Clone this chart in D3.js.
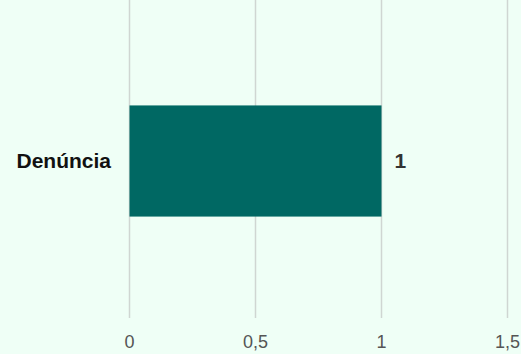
<!DOCTYPE html>
<meta charset="utf-8">
<script src="https://d3js.org/d3.v7.min.js"></script>
<style>
  body { margin: 0; background: #effff6; }
  svg { display: block; font-family: "Liberation Sans", Arial, sans-serif; }
</style>
<body>
<svg id="chart" width="521" height="354"></svg>
<script>
// data
var categories = ["Denúncia"];
var values = [1];
var tickValues = [0, 0.5, 1, 1.5];
var tickLabels = ["0", "0,5", "1", "1,5"];

var svg = d3.select("#chart");

var x = d3.scaleLinear().domain([0, 1.5]).range([129.5, 507.5]);
var y = d3.scaleBand().domain(categories).range([2, 320]).padding(0.482);

// vertical grid
svg.append("g")
  .selectAll("line")
  .data(tickValues)
  .enter().append("line")
    .attr("x1", d => x(d)).attr("x2", d => x(d))
    .attr("y1", 0).attr("y2", 318)
    .attr("stroke", "#cfd6d2")
    .attr("stroke-width", 1.5);

// x tick labels
svg.append("g")
  .selectAll("text")
  .data(tickValues)
  .enter().append("text")
    .attr("x", d => x(d))
    .attr("y", 348)
    .attr("text-anchor", "middle")
    .attr("font-size", 18)
    .attr("fill", "#555")
    .text((d, i) => tickLabels[i]);

// bars
svg.append("g")
  .selectAll("rect")
  .data(values)
  .enter().append("rect")
    .attr("x", x(0))
    .attr("y", (d, i) => y(categories[i]))
    .attr("width", d => x(d) - x(0))
    .attr("height", y.bandwidth())
    .attr("fill", "#006863");

// category labels
svg.append("g")
  .selectAll("text")
  .data(categories)
  .enter().append("text")
    .attr("x", 111)
    .attr("y", d => y(d) + y.bandwidth() / 2)
    .attr("dy", "0.35em")
    .attr("text-anchor", "end")
    .attr("font-size", 21)
    .attr("font-weight", "bold")
    .attr("fill", "#111")
    .text(d => d);

// value labels
svg.append("g")
  .selectAll("text")
  .data(values)
  .enter().append("text")
    .attr("x", d => x(d) + 13)
    .attr("y", (d, i) => y(categories[i]) + y.bandwidth() / 2)
    .attr("dy", "0.35em")
    .attr("font-size", 21)
    .attr("font-weight", "bold")
    .attr("fill", "#333")
    .text(d => d);
</script>
</body>
